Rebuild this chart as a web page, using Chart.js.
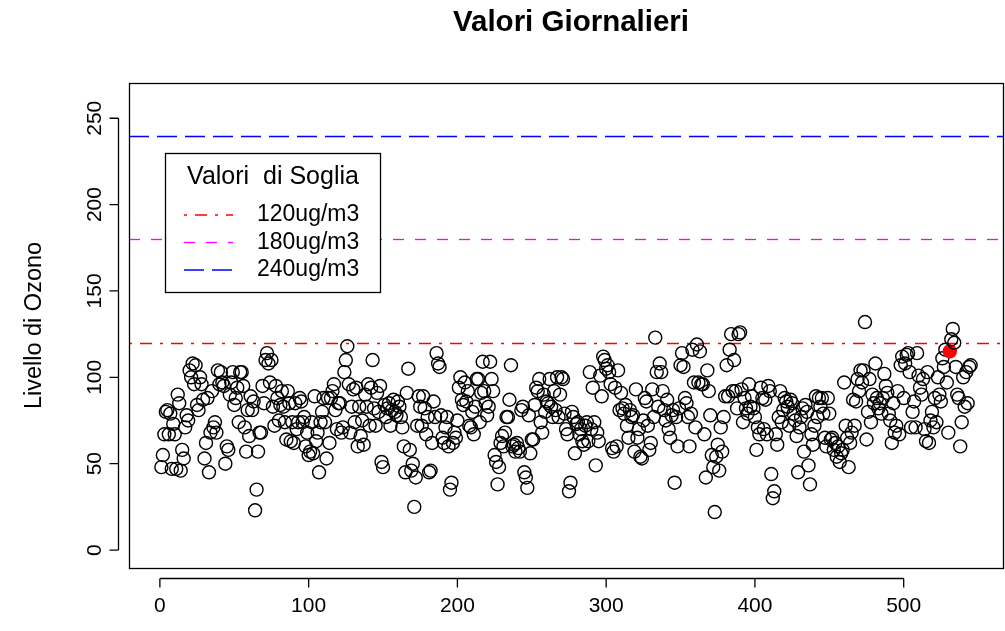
<!DOCTYPE html>
<html>
<head>
<meta charset="utf-8">
<script src="https://cdn.jsdelivr.net/npm/chart.js@4.4.1/dist/chart.umd.min.js"></script>
<style>
  html, body { margin: 0; padding: 0; background: #fff; overflow: hidden; }
  #wrap { width: 1005px; height: 631px; }
</style>
</head>
<body>
<div id="wrap"><canvas id="ozonoChart" width="1005" height="631"></canvas></div>
<script>
// valori giornalieri di ozono (ug/m3)
const ozono = [
  48, 55, 67, 80, 81, 67, 79, 47, 73, 67,
  47, 90, 85, 46, 58, 53, 71, 78, 75, 104,
  100, 108, 96, 107, 84, 81, 100, 96, 87, 53,
  62, 88, 45, 68, 92, 71, 74, 68, 104, 96,
  103, 97, 95, 50, 60, 58, 90, 97, 103, 84,
  88, 94, 74, 103, 103, 95, 71, 57, 81, 66,
  89, 81, 86, 23, 35, 57, 68, 68, 95, 85,
  110, 114, 108, 97, 110, 83, 72, 95, 88, 75,
  84, 92, 83, 74, 64, 92, 85, 63, 74, 62,
  85, 70, 74, 88, 86, 74, 77, 60, 68, 55,
  57, 74, 56, 89, 63, 68, 45, 74, 80, 88,
  74, 53, 88, 62, 88, 92, 96, 81, 70, 85,
  85, 68, 71, 103, 110, 118, 96, 68, 83, 93,
  74, 94, 60, 83, 66, 75, 61, 90, 83, 96,
  72, 94, 110, 82, 72, 91, 80, 95, 51, 48,
  84, 77, 82, 85, 72, 81, 87, 80, 78, 86,
  83, 77, 71, 60, 45, 91, 105, 58, 46, 50,
  25, 42, 72, 89, 83, 72, 89, 82, 67, 77,
  45, 46, 62, 86, 77, 114, 108, 106, 78, 65,
  62, 71, 77, 60, 35, 39, 62, 68, 65, 75,
  94, 100, 87, 84, 97, 86, 92, 72, 71, 80,
  67, 83, 99, 99, 74, 91, 109, 92, 85, 78,
  83, 109, 99, 92, 55, 51, 38, 48, 62, 66,
  60, 68, 77, 77, 87, 107, 60, 61, 57, 62,
  59, 57, 81, 83, 45, 42, 36, 78, 56, 64,
  64, 84, 94, 92, 99, 74, 68, 90, 80, 86,
  85, 99, 83, 77, 92, 81, 100, 77, 90, 100,
  99, 79, 70, 67, 34, 39, 80, 77, 56, 73,
  74, 67, 70, 63, 61, 72, 74, 63, 103, 70,
  94, 74, 49, 68, 63, 101, 89, 112, 110, 105,
  107, 103, 96, 59, 57, 94, 60, 104, 81, 91,
  82, 79, 84, 72, 65, 81, 77, 78, 57, 93,
  65, 70, 54, 53, 75, 88, 86, 72, 58, 62,
  93, 77, 123, 103, 83, 108, 103, 92, 81, 75,
  87, 70, 65, 78, 81, 39, 77, 60, 82, 107,
  114, 106, 88, 85, 77, 60, 79, 116, 97, 71,
  119, 97, 115, 96, 96, 67, 42, 104, 92, 78,
  55, 48, 22, 54, 61, 46, 71, 57, 77, 89,
  107, 89, 116, 125, 92, 110, 92, 82, 125, 126,
  93, 74, 88, 82, 79, 96, 83, 89, 82, 77,
  58, 71, 67, 94, 88, 70, 87, 67, 95, 92,
  44, 30, 34, 67, 61, 77, 92, 74, 81, 88,
  86, 83, 72, 87, 85, 79, 75, 66, 45, 71,
  77, 82, 57, 84, 80, 49, 38, 67, 61, 72,
  89, 77, 88, 83, 88, 79, 65, 60, 88, 79,
  64, 65, 58, 62, 54, 60, 51, 56, 58, 97,
  72, 65, 48, 62, 68, 87, 72, 86, 99, 92,
  104, 97, 104, 132, 64, 80, 99, 74, 90, 85,
  108, 88, 82, 85, 79, 88, 102, 95, 91, 79,
  75, 62, 85, 68, 72, 92, 67, 107, 112, 88,
  108, 113, 114, 103, 71, 80, 86, 71, 114, 101,
  94, 90, 99, 70, 63, 103, 62, 75, 80, 71,
  88, 74, 100, 90, 86, 111, 106, 116, 97, 68,
  115, 122, 128, 120, 106, 90, 88, 60, 74, 100,
  83, 103, 85, 106, 107
];
const giornoEvidenziato = 531;   // punto pieno rosso

const soglie = [120, 180, 240];
const soglieLabel = ['120ug/m3', '180ug/m3', '240ug/m3'];
const soglieColori = ['#ff0000', '#ff00ff', '#0000ff'];
const soglieDash = [[3, 8, 12, 8], [11, 11], [20, 8]];

const tickX = [0, 100, 200, 300, 400, 500];
const tickY = [0, 50, 100, 150, 200, 250];

const FONT = '"Liberation Sans", Arial, Helvetica, sans-serif';
const nGiorni = ozono.length;
const padX = 0.04 * (nGiorni - 1);

// assi, box, linee soglia, legenda e titolo in stile R
const stileR = {
    id: 'stileR',
    beforeDatasetsDraw(chart) {
        const { ctx, chartArea: a, scales: { y } } = chart;
        ctx.save();
        ctx.beginPath();
        ctx.rect(a.left, a.top, a.right - a.left, a.bottom - a.top);
        ctx.clip();
        ctx.lineWidth = 1.3;
        soglie.forEach((s, i) => {
            const py = Math.round(y.getPixelForValue(s)) + 0.5;
            ctx.strokeStyle = soglieColori[i];
            ctx.setLineDash(soglieDash[i]);
            ctx.beginPath();
            ctx.moveTo(a.left, py);
            ctx.lineTo(a.right, py);
            ctx.stroke();
        });
        ctx.restore();
    },
    afterDraw(chart) {
        const { ctx, chartArea: a, scales: { x, y } } = chart;
        ctx.save();
        ctx.strokeStyle = '#000';
        ctx.fillStyle = '#000';
        ctx.lineWidth = 1.3;

        // box
        ctx.strokeRect(a.left + 0.5, a.top + 0.5, a.right - a.left, a.bottom - a.top);

        // asse x
        const ax = a.bottom + 10.5;
        const x0 = x.getPixelForValue(tickX[0]);
        const x1 = x.getPixelForValue(tickX[tickX.length - 1]);
        ctx.beginPath();
        ctx.moveTo(x0, ax);
        ctx.lineTo(x1, ax);
        tickX.forEach(t => {
            const px = x.getPixelForValue(t);
            ctx.moveTo(px, ax);
            ctx.lineTo(px, ax + 9);
        });
        ctx.stroke();
        ctx.font = '21px ' + FONT;
        ctx.textAlign = 'center';
        ctx.textBaseline = 'middle';
        tickX.forEach(t => ctx.fillText(String(t), x.getPixelForValue(t), 606));

        // asse y
        const ay = a.left - 10.5;
        const y0 = y.getPixelForValue(tickY[0]);
        const y1 = y.getPixelForValue(tickY[tickY.length - 1]);
        ctx.beginPath();
        ctx.moveTo(ay, y0);
        ctx.lineTo(ay, y1);
        tickY.forEach(t => {
            const py = y.getPixelForValue(t);
            ctx.moveTo(ay, py);
            ctx.lineTo(ay - 9, py);
        });
        ctx.stroke();
        tickY.forEach(t => {
            ctx.save();
            ctx.translate(95, y.getPixelForValue(t));
            ctx.rotate(-Math.PI / 2);
            ctx.fillText(String(t), 0, 0);
            ctx.restore();
        });

        // titolo asse y
        ctx.save();
        ctx.font = '23.5px ' + FONT;
        ctx.translate(35, (a.top + a.bottom) / 2);
        ctx.rotate(-Math.PI / 2);
        ctx.fillText('Livello di Ozono', 0, 0);
        ctx.restore();

        // titolo
        ctx.font = 'bold 29.5px ' + FONT;
        ctx.fillText('Valori Giornalieri', 571, 23);

        // legenda
        ctx.fillStyle = '#fff';
        ctx.fillRect(165.5, 153.5, 215, 139);
        ctx.fillStyle = '#000';
        ctx.lineWidth = 1.3;
        ctx.strokeRect(165.5, 153.5, 215, 139);
        ctx.font = '25px ' + FONT;
        ctx.fillText('Valori  di Soglia', 273, 177);
        ctx.font = '23px ' + FONT;
        ctx.textAlign = 'left';
        soglie.forEach((s, i) => {
            const py = 215 + i * 27.5;
            ctx.strokeStyle = soglieColori[i];
            ctx.setLineDash(soglieDash[i]);
            ctx.beginPath();
            ctx.moveTo(184, py);
            ctx.lineTo(233, py);
            ctx.stroke();
            ctx.setLineDash([]);
            ctx.fillText(soglieLabel[i], 257, py);
        });
        ctx.restore();
    }
};

new Chart(document.getElementById('ozonoChart'), {
    type: 'scatter',
    data: {
        datasets: [{
            label: 'Ozono',
            data: ozono.map((v, i) => ({ x: i + 1, y: v })),
            pointRadius: 6.5,
            pointBorderWidth: 1.4,
            pointBorderColor: ozono.map((v, i) => i + 1 === giornoEvidenziato ? '#ff0000' : '#000000'),
            pointBackgroundColor: ozono.map((v, i) => i + 1 === giornoEvidenziato ? '#ff0000' : 'rgba(0,0,0,0)'),
            pointHoverRadius: 6.5
        }]
    },
    plugins: [stileR],
    options: {
        responsive: false,
        animation: false,
        layout: { autoPadding: false, padding: { left: 129, top: 83, right: 2, bottom: 63 } },
        plugins: {
            legend: { display: false },
            tooltip: { enabled: false },
            title: { display: false }
        },
        scales: {
            x: { type: 'linear', display: false, min: 1 - padX, max: nGiorni + padX },
            y: { type: 'linear', display: false, min: -10.4, max: 270.4 }
        }
    }
});
</script>
</body>
</html>
